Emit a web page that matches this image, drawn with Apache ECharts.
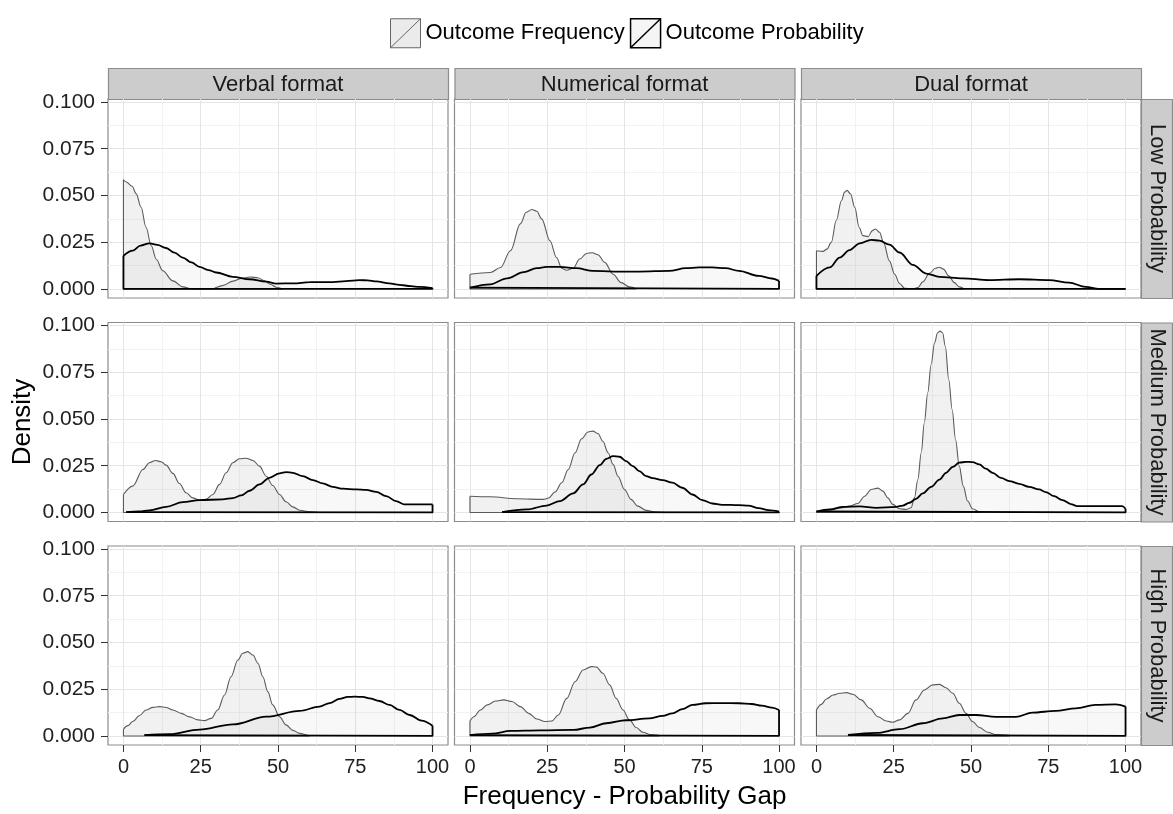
<!DOCTYPE html>
<html>
<head>
<meta charset="utf-8">
<script src="https://cdn.jsdelivr.net/npm/echarts@6/dist/echarts.min.js"></script>
<style>html,body{margin:0;padding:0;background:#fff}#c{width:1173px;height:814px}</style>
</head>
<body>
<div id="c"></div>
<script>
// ---- categories / ticks ----
const formats = ['Verbal format', 'Numerical format', 'Dual format'];
const levels = ['Low Probability', 'Medium Probability', 'High Probability'];
const seriesNames = ['Outcome Frequency', 'Outcome Probability'];
const xTicks = [0, 25, 50, 75, 100];
const xMinorTicks = [12.5, 37.5, 62.5, 87.5];
const yTicks = [0, 0.025, 0.05, 0.075, 0.1];
const yMinorTicks = [0.0125, 0.0375, 0.0625, 0.0875];

// ---- density values [gap, density] ----
const verbalLowFreq = [[0,0.0584],[0.9,0.0572],[2.8,0.0549],[4.1,0.051],[5.7,0.0437],[7.3,0.033],[9,0.0231],[10.6,0.0159],[12.7,0.0097],[16,0.0043],[19.2,0.0011],[22.4,0],[28.5,0],[32,0.0018],[35.5,0.0042],[38.5,0.0058],[41,0.0064],[43.5,0.006],[45.5,0.0045],[47.5,0.0025],[49.5,0.0009],[51.5,0]];
const verbalLowProb = [[0,0.0177],[3,0.0205],[5.5,0.0232],[8.4,0.0244],[11,0.0236],[13.8,0.0219],[16.5,0.0194],[19.2,0.0168],[22,0.0142],[24.6,0.0118],[27.5,0.0101],[30,0.0088],[35.4,0.0065],[40.8,0.0052],[46.2,0.0039],[49.4,0.0029],[55,0.003],[60.2,0.0036],[67.7,0.0037],[72,0.0042],[76.4,0.0047],[79,0.0046],[81.8,0.004],[86,0.003],[89.3,0.0022],[93,0.0015],[95.8,0.0011],[100,0.0004]];
const numericalLowFreq = [[0,0.0079],[6.6,0.0088],[9.9,0.0115],[13.1,0.0204],[16.3,0.0348],[18.2,0.041],[20,0.0425],[21.6,0.0416],[23.2,0.0375],[25.9,0.0258],[28,0.0168],[29.7,0.0111],[31.3,0.01],[33.4,0.0111],[35.5,0.016],[37.7,0.019],[39.6,0.0194],[41.4,0.0183],[43.6,0.0142],[46.3,0.0079],[48.9,0.0034],[51.6,0.0011],[53.8,0]];
const numericalLowProb = [[0,0.0007],[6.6,0.0025],[12,0.0057],[17.4,0.009],[21.6,0.0111],[24.8,0.0118],[29.1,0.0118],[34.5,0.0111],[39.8,0.0097],[46.3,0.0093],[54.8,0.0093],[64.5,0.0097],[69.8,0.0111],[74.1,0.0115],[78.4,0.0115],[82.7,0.0111],[87,0.0097],[93.4,0.007],[97.7,0.0056],[100,0.0043]];
const dualLowFreq = [[0,0.0204],[2.1,0.0201],[3.4,0.0213],[4.8,0.0249],[6.4,0.0366],[8.1,0.0473],[9.1,0.0518],[9.9,0.0527],[11,0.0509],[12.4,0.0437],[13.8,0.033],[15,0.0285],[16.7,0.028],[18.1,0.0312],[19.1,0.0321],[20.4,0.0303],[21.7,0.0249],[23.6,0.015],[25.3,0.0079],[26.9,0.0029],[28.5,0.0004],[31.2,0],[32.8,0.0007],[34.4,0.0038],[36.6,0.0084],[38.5,0.0111],[39.8,0.0116],[41.1,0.0106],[42.8,0.007],[44.6,0.0034],[46.2,0.0011],[47.8,0]];
const dualLowProb = [[0,0.007],[4.3,0.0115],[7.5,0.0168],[10.7,0.0208],[14,0.0244],[17.7,0.0263],[20.4,0.0258],[23.6,0.0237],[26.9,0.0195],[31.2,0.0129],[35.5,0.0082],[39.8,0.0065],[47.3,0.0057],[55.9,0.0047],[65.6,0.0052],[75.3,0.0047],[81.7,0.0034],[87.1,0.0011],[91.4,0],[100,0]];
const verbalMedFreq = [[0,0.0096],[3,0.0141],[6.3,0.023],[8.4,0.0266],[10.4,0.0278],[12.2,0.0271],[13.8,0.0253],[16,0.0209],[18.1,0.0155],[20.3,0.0105],[22.4,0.0078],[24.6,0.0066],[26.7,0.007],[28.9,0.0096],[31.1,0.015],[33.2,0.0212],[35.4,0.0266],[37.5,0.0287],[39.7,0.029],[41.9,0.0278],[44,0.0248],[46.2,0.0194],[48.3,0.0144],[50.5,0.0096],[52.6,0.0057],[54.8,0.003],[57,0.0012],[60.2,0.0004],[63.4,0]];
const verbalMedProb = [[0.9,0.0002],[5.2,0.0005],[8.4,0.0011],[13.8,0.003],[19.2,0.0055],[24.6,0.0066],[32.1,0.007],[35.4,0.0077],[38.1,0.0091],[40.8,0.0116],[44,0.015],[47.2,0.0185],[50.5,0.0209],[52.6,0.0216],[54.8,0.0212],[58,0.0194],[61.3,0.0173],[64.5,0.0155],[67.7,0.0137],[71,0.0127],[75.3,0.0123],[78.5,0.0121],[81.8,0.011],[85,0.0087],[88.2,0.0061],[90.9,0.0043],[95.8,0.0043],[100,0.0043]];
const numericalMedFreq = [[0,0.0087],[6.6,0.0084],[15.2,0.0073],[23.8,0.007],[25.4,0.0077],[27.5,0.0109],[29.7,0.0159],[31.8,0.023],[34,0.0319],[36.1,0.0394],[38.2,0.043],[39.8,0.0435],[41.4,0.0422],[43,0.0381],[44.7,0.0319],[46.3,0.0257],[47.9,0.0194],[50,0.0123],[52.1,0.007],[54.3,0.0034],[57,0.0011],[60.2,0.0002],[63.4,0]];
const numericalMedProb = [[10.4,0.0002],[18.4,0.0016],[24.8,0.0037],[29.1,0.0061],[33.4,0.0102],[36.6,0.015],[39.3,0.0203],[42,0.0253],[44.1,0.0287],[46.3,0.0301],[48.4,0.0298],[50.5,0.0275],[52.7,0.0248],[54.8,0.0221],[57,0.0194],[59.1,0.0184],[62.3,0.0173],[65.5,0.0159],[68.7,0.0132],[72,0.0096],[75.2,0.0066],[78.4,0.0048],[81.6,0.0041],[87,0.0039],[90.1,0.0037],[93.4,0.0023],[96.6,0.0012],[100,0.0004]];
const dualMedFreq = [[0,0.0002],[4.3,0.0012],[7.5,0.0023],[10.7,0.0034],[13.4,0.0048],[15.6,0.0087],[17.7,0.0123],[19.9,0.013],[21.5,0.0114],[23.1,0.0078],[24.7,0.0043],[26.9,0.002],[29,0.0016],[30.6,0.0025],[31.7,0.0078],[32.8,0.0176],[33.9,0.0319],[34.9,0.048],[36,0.064],[37.1,0.0791],[38.2,0.0907],[39.2,0.0961],[40,0.097],[40.8,0.0961],[41.7,0.0889],[42.8,0.0711],[43.9,0.0551],[45,0.039],[46.2,0.0248],[47.5,0.0141],[48.9,0.0061],[50.5,0.002],[52.7,0.0004],[53.2,0]];
const dualMedProb = [[0,0.0005],[4.3,0.0016],[8.6,0.003],[14,0.0032],[19.4,0.0025],[25.8,0.003],[27.9,0.0037],[30.1,0.0052],[32.2,0.0073],[34.4,0.0102],[37.1,0.0137],[39.8,0.0176],[41.9,0.0212],[44.1,0.0244],[46.2,0.0266],[48.4,0.0271],[50.5,0.0269],[52.7,0.0257],[54.8,0.0234],[57,0.0212],[59.7,0.0185],[62.4,0.0168],[65.6,0.0153],[68.8,0.0137],[72,0.0123],[74.2,0.0109],[76.9,0.0087],[79.6,0.0066],[82.3,0.0045],[84.4,0.0034],[91.4,0.0034],[98.9,0.0034],[100,0.002]];
const verbalHighFreq = [[0,0.0036],[1.4,0.0055],[3,0.0077],[5.2,0.0109],[7.3,0.0139],[9.5,0.0153],[11.7,0.0157],[13.8,0.0152],[16,0.0139],[18.7,0.0121],[21.4,0.0102],[24.1,0.0086],[26.2,0.0082],[28.4,0.0094],[30.5,0.0139],[32.7,0.0219],[34.8,0.0317],[37,0.0406],[38.6,0.0442],[40.2,0.0451],[41.9,0.0433],[43.5,0.0389],[45.1,0.0317],[46.7,0.0237],[48.3,0.0166],[50.5,0.0103],[52.6,0.0059],[54.8,0.003],[57,0.0014],[59.7,0.0004],[60.2,0]];
const verbalHighProb = [[6.8,0.0004],[14.9,0.0009],[24.6,0.0034],[35.4,0.0062],[46.2,0.0103],[57,0.0134],[63.4,0.0157],[66.7,0.0176],[69.9,0.0198],[72.6,0.0209],[74.8,0.021],[77.5,0.0209],[79.6,0.0201],[82.8,0.0187],[86.1,0.0166],[89.3,0.0139],[92.6,0.0112],[96.4,0.0082],[100,0.0055]];
const numericalHighFreq = [[0,0.008],[1.3,0.0103],[3.4,0.0139],[5.6,0.0166],[8.3,0.0187],[10.9,0.0193],[13.6,0.0184],[16.3,0.0157],[19,0.0121],[21.6,0.0091],[24.3,0.0077],[26.5,0.008],[28.6,0.0112],[31.3,0.0201],[34,0.029],[36.6,0.0353],[39.3,0.0371],[40.9,0.0369],[43,0.0335],[45.2,0.0273],[47.3,0.0201],[49.5,0.0139],[51.6,0.0086],[53.8,0.0045],[55.9,0.002],[58.6,0.0007],[61.2,0.0004]];
const numericalHighProb = [[0,0.0004],[7.2,0.0012],[13.1,0.0027],[22.7,0.003],[33.4,0.0032],[38.8,0.0045],[44.1,0.0068],[50.5,0.0084],[58,0.0094],[62.3,0.0107],[65.5,0.0121],[68.7,0.0144],[72,0.0166],[76.2,0.0175],[81.6,0.0176],[87,0.0175],[91.2,0.0171],[94.4,0.0162],[97.7,0.0152],[100,0.0139]];
const dualHighFreq = [[0,0.0139],[1.6,0.0169],[3.2,0.0198],[5.4,0.0219],[7.5,0.0228],[9.7,0.0232],[11.8,0.0223],[14.5,0.0193],[17.2,0.0148],[19.9,0.0103],[22.6,0.008],[24.7,0.0073],[26.9,0.0086],[29.6,0.0121],[32.2,0.0193],[34.9,0.0246],[37.6,0.0273],[39.8,0.0276],[41.9,0.0258],[44.1,0.0228],[46.2,0.0175],[48.4,0.0121],[50.5,0.0077],[52.7,0.0045],[55.4,0.002],[58.1,0.0007],[62.4,0.0004]];
const dualHighProb = [[10.2,0.0005],[19.4,0.0016],[26.9,0.0036],[34.4,0.0068],[40.9,0.0094],[46.2,0.0112],[51.6,0.0112],[58.1,0.0102],[64.5,0.0102],[69.9,0.0125],[77.4,0.0134],[83.9,0.0148],[90.3,0.0166],[96.8,0.0169],[100,0.0157]];

// panel table [row][col] -> [freq, prob]
const panels = [
  [[verbalLowFreq, verbalLowProb], [numericalLowFreq, numericalLowProb], [dualLowFreq, dualLowProb]],
  [[verbalMedFreq, verbalMedProb], [numericalMedFreq, numericalMedProb], [dualMedFreq, dualMedProb]],
  [[verbalHighFreq, verbalHighProb], [numericalHighFreq, numericalHighProb], [dualHighFreq, dualHighProb]]
];

// ---- layout ----
const FONT = 'Liberation Sans, Arial, sans-serif';
const colLeft = [108, 454.5, 801];
const panelW = 340;
const rowTop = [99, 322.5, 546];
const panelH = 199;
const stripH = 31;
const X_MIN = -5, X_MAX = 105, Y_MIN = -0.00484, Y_MAX = 0.1016;

const grids = [], xAxes = [], yAxes = [], series = [], graphics = [];
const N = 9;
for (let r = 0; r < 3; r++) {
  for (let c = 0; c < 3; c++) {
    grids.push({left: colLeft[c], top: rowTop[r], width: panelW, height: panelH, show: true,
      borderColor: '#8c8c8c', borderWidth: 1.2, backgroundColor: '#fff', containLabel: false});
  }
}
// minor axes first (indices 0..8), then major axes (9..17)
for (let g = 0; g < N; g++) {
  xAxes.push({gridIndex: g, type: 'value', position: 'bottom', min: X_MIN, max: X_MAX, axisLine: {show: false, onZero: false},
    axisTick: {show: false, customValues: xMinorTicks}, axisLabel: {show: false, customValues: xMinorTicks},
    splitLine: {show: true, lineStyle: {color: '#f2f2f2', width: 1}}});
  yAxes.push({gridIndex: g, type: 'value', position: 'left', min: Y_MIN, max: Y_MAX, axisLine: {show: false, onZero: false},
    axisTick: {show: false, customValues: yMinorTicks}, axisLabel: {show: false, customValues: yMinorTicks},
    splitLine: {show: true, lineStyle: {color: '#f2f2f2', width: 1}}});
}
for (let g = 0; g < N; g++) {
  const r = Math.floor(g / 3), c = g % 3;
  const xa = {gridIndex: g, type: 'value', position: 'bottom', min: X_MIN, max: X_MAX, axisLine: {show: false, onZero: false},
    axisTick: {show: r === 2, length: 7, lineStyle: {color: '#333', width: 1}, customValues: xTicks},
    axisLabel: {show: r === 2, customValues: xTicks, fontSize: 20, color: '#222', margin: 12, fontFamily: FONT},
    splitLine: {show: true, lineStyle: {color: '#e5e5e5', width: 1}}};
  if (r === 2 && c === 1) {
    xa.name = 'Frequency - Probability Gap';
    xa.nameLocation = 'middle';
    xa.nameGap = 39;
    xa.nameTextStyle = {fontSize: 26, color: '#000', fontFamily: FONT};
  }
  xAxes.push(xa);
  const ya = {gridIndex: g, type: 'value', position: 'left', min: Y_MIN, max: Y_MAX, axisLine: {show: false, onZero: false},
    axisTick: {show: c === 0, length: 7, lineStyle: {color: '#333', width: 1}, customValues: yTicks},
    axisLabel: {show: c === 0, customValues: yTicks, fontSize: 21, color: '#222', margin: 13, fontFamily: FONT,
      formatter: v => v.toFixed(3)},
    splitLine: {show: true, lineStyle: {color: '#e5e5e5', width: 1}}};
  if (r === 1 && c === 0) {
    ya.name = 'Density';
    ya.nameLocation = 'middle';
    ya.nameGap = 72;
    ya.nameTextStyle = {fontSize: 26, color: '#000', fontFamily: FONT};
  }
  yAxes.push(ya);
}

const styles = [
  {line: {color: '#5a5a5a', width: 1.1}, area: 'rgba(155,155,155,0.2)'},
  {line: {color: '#000', width: 1.8}, area: 'rgba(155,155,155,0.1)'}
];
for (let g = 0; g < N; g++) {
  const r = Math.floor(g / 3), c = g % 3;
  for (let k = 0; k < 2; k++) {
    const d = panels[r][c][k];
    const first = d[0], last = d[d.length - 1];
    series.push({type: 'line', name: seriesNames[k], xAxisIndex: N + g, yAxisIndex: N + g, data: d,
      smooth: 0.35, smoothMonotone: 'x', symbol: 'none', silent: true, animation: false,
      lineStyle: styles[k].line, areaStyle: {color: styles[k].area}});
    // closing outline: vertical ends and baseline of the density polygon
    series.push({type: 'line', name: seriesNames[k], xAxisIndex: N + g, yAxisIndex: N + g,
      data: [first, [first[0], 0], [last[0], 0], last],
      smooth: false, symbol: 'none', silent: true, animation: false, lineStyle: styles[k].line});
  }
}

// strips
for (let c = 0; c < 3; c++) {
  graphics.push({type: 'rect', shape: {x: colLeft[c] + 0.5, y: rowTop[0] - stripH + 0.5, width: panelW, height: stripH},
    style: {fill: '#cccccc', stroke: '#8c8c8c', lineWidth: 1.2}, silent: true});
  graphics.push({type: 'text', x: colLeft[c] + panelW / 2, y: rowTop[0] - stripH / 2 + 1,
    style: {text: formats[c], fontSize: 22, fontFamily: FONT, fill: '#1a1a1a', align: 'center', verticalAlign: 'middle'}, silent: true});
}
const rightX = colLeft[2] + panelW;
for (let r = 0; r < 3; r++) {
  graphics.push({type: 'rect', shape: {x: rightX + 0.5, y: rowTop[r] + 0.5, width: stripH, height: panelH},
    style: {fill: '#cccccc', stroke: '#8c8c8c', lineWidth: 1.2}, silent: true});
  graphics.push({type: 'text', x: rightX + stripH / 2 + 1, y: rowTop[r] + panelH / 2, rotation: -Math.PI / 2,
    style: {text: levels[r], fontSize: 22, fontFamily: FONT, fill: '#1a1a1a', align: 'center', verticalAlign: 'middle'}, silent: true});
}

const chart = echarts.init(document.getElementById('c'), null, {renderer: 'canvas'});
chart.setOption({
  animation: false,
  backgroundColor: '#fff',
  legend: {
    top: 13, left: 385, itemWidth: 30, itemHeight: 29, itemGap: 5, selectedMode: false,
    icon: 'path://M0,0L30,0L30,29L0,29ZM0,29L30,0',
    textStyle: {fontSize: 22, color: '#000', fontFamily: FONT},
    data: [
      {name: seriesNames[0], itemStyle: {color: '#ebebeb', borderColor: '#666', borderWidth: 1}},
      {name: seriesNames[1], itemStyle: {color: '#f5f5f5', borderColor: '#000', borderWidth: 1.5}}
    ]
  },
  grid: grids,
  xAxis: xAxes,
  yAxis: yAxes,
  series: series,
  graphic: graphics
});
</script>
</body>
</html>
